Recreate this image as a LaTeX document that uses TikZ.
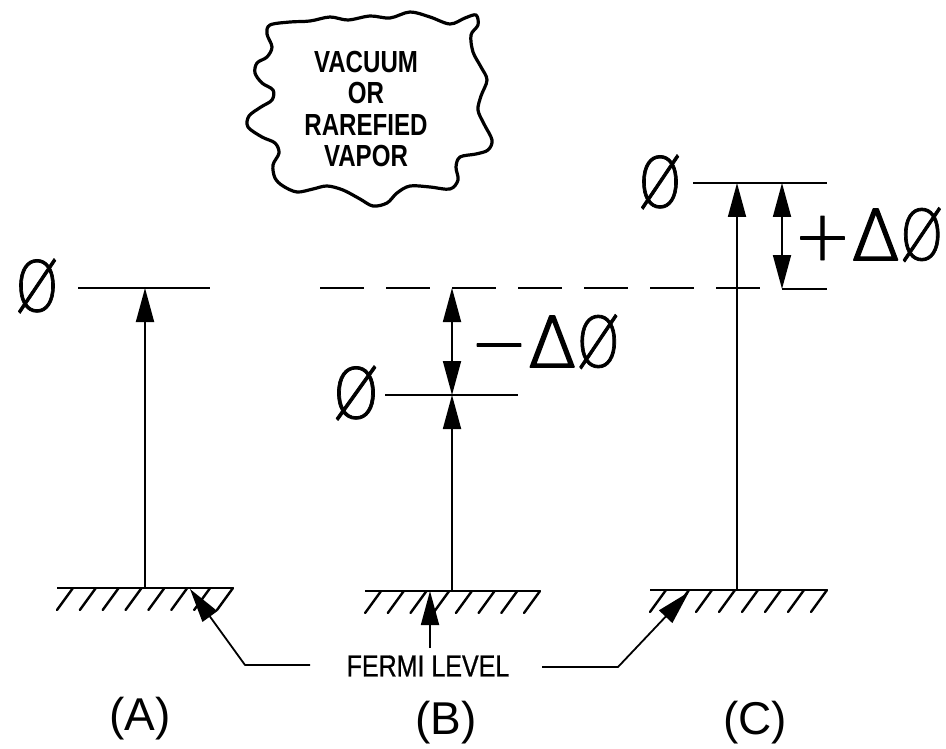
\documentclass[tikz,border=0pt]{standalone}
\usepackage{fontspec}
\setmainfont{Liberation Sans}
\newfontfamily\thinfont[FakeBold=1.2]{DejaVu Sans ExtraLight}
\newfontfamily\deltafont[FakeBold=2.6]{DejaVu Sans ExtraLight}
\newfontfamily\medfont[FakeBold=0.9]{Liberation Sans}
\usetikzlibrary{arrows.meta,calc}
\begin{document}
\begin{tikzpicture}[x=1pt,y=-1pt,line join=round,
  ln/.style={line width=1.8pt},
  baseln/.style={line width=2.8pt},
  hatchln/.style={line width=2.4pt,line cap=round},
  cloudln/.style={line width=3.2pt},
  tip/.style={-{Triangle[length=34pt,width=18pt]}},
  tips/.style={{Triangle[length=34pt,width=18pt]}-{Triangle[length=34pt,width=18pt]}},
  phi/.style={inner sep=0pt,font=\thinfont\fontsize{70}{70}\selectfont},
  delta/.style={inner sep=0pt,font=\thinfont\fontsize{70}{70}\selectfont},
  lab/.style={inner sep=0pt,font=\fontsize{46}{46}\selectfont},
  fermi/.style={inner sep=0pt,font=\medfont\fontsize{30.5}{30.5}\selectfont},
  cloudtxt/.style={inner sep=0pt,font=\bfseries\fontsize{30.5}{31.5}\selectfont}]
\useasboundingbox (0,0) rectangle (946,749);

% ---- cloud
\draw[cloudln] plot[smooth cycle,tension=0.55] coordinates {
 (270,25) (290,22) (310,21) (330,17) (348,20) (370,16) (390,18) (410,12)
 (430,17) (450,24) (465,18) (476,15) (478,25) (471,35) (473,52) (481,67)
 (487,80) (481,96) (478,110) (484,124) (492,140) (488,150) (476,154)
 (460,157) (456,167) (458,180) (450,189) (430,187) (410,186) (397,193)
 (387,203) (373,206) (360,199) (343,190) (327,186) (313,189) (297,192)
 (283,186) (275,178) (273,165) (279,153) (275,143) (262,137) (248,127)
 (249,116) (261,107) (272,100) (273,90) (262,83) (255,73) (257,63)
 (267,57) (272,47) (267,34)};
\node[cloudtxt] (cloud) at (366,113) {\scalebox{0.79}[1]{\begin{tabular}{@{}c@{}}VACUUM\\OR\\RAREFIED\\VAPOR\end{tabular}}};

% ---- base (Fermi) lines with hatching
\coordinate (gA1) at (57,588);  \coordinate (gA2) at (233,588);
\coordinate (gB1) at (365,591); \coordinate (gB2) at (540,591);
\coordinate (gC1) at (650,590); \coordinate (gC2) at (827,590);
\draw[baseln] (gA1) -- (gA2);
\draw[baseln] (gB1) -- (gB2);
\draw[baseln] (gC1) -- (gC2);
\foreach \k in {0,...,7}{
  \draw[hatchln] ($(gA2)+(-22.86*\k,0)$) -- ++(-16,22);
  \draw[hatchln] ($(gB2)+(-22.7*\k,0)$) -- ++(-16,22);
  \draw[hatchln] ($(gC2)+(-23*\k,0)$) -- ++(-16,22);
}

% ---- panel A
\coordinate (vA0) at (145,588);
\coordinate (vA1) at (145,288);
\coordinate (hA1) at (78,288); \coordinate (hA2) at (210,288);
\draw[ln] (hA1) -- (hA2);
\draw[ln,tip] (vA0) -- (vA1);
\node[phi] (phiA) at (37,286) {\scalebox{0.8}[1]{Ø}};

% ---- panel B
\coordinate (dB1) at (320,288); \coordinate (dB2) at (760,288);
\draw[ln,dash pattern=on 44pt off 22pt] (dB1) -- (dB2);
\coordinate (vB0) at (452,591);
\coordinate (vB1) at (452,395);
\coordinate (vB2) at (452,288);
\coordinate (hB1) at (385,395); \coordinate (hB2) at (518,395);
\draw[ln] (hB1) -- (hB2);
\draw[ln,tip] (vB0) -- (vB1);
\draw[ln,tips] (vB1) -- (vB2);
\node[phi] (phiB) at (356,393) {\scalebox{0.85}[1]{Ø}};
\node[delta,anchor=base] (dphiB) at (545,367) {−{\deltafont Δ}\scalebox{0.8}[1]{Ø}};

% ---- panel C
\coordinate (vC0) at (737,590);
\coordinate (vC1) at (737,183);
\coordinate (hC1) at (693,183); \coordinate (hC2) at (827,183);
\coordinate (eC1) at (782,289); \coordinate (eC2) at (827,289);
\coordinate (kC1) at (782,183);
\draw[ln] (hC1) -- (hC2);
\draw[ln] (eC1) -- (eC2);
\draw[ln,tip] (vC0) -- (vC1);
\draw[ln,tips] (kC1) -- (eC1);
\node[phi] (phiC) at (660,182) {\scalebox{0.8}[1]{Ø}};
\node[delta,anchor=base east] (dphiC) at (944,260) {+{\deltafont Δ}\scalebox{0.8}[1]{Ø}};

% ---- Fermi level label and leaders
\node[fermi] (fermi) at (428,666) {\scalebox{0.82}[1]{FERMI LEVEL}};
\coordinate (fa1) at (310,665); \coordinate (fa2) at (245,665); \coordinate (fa3) at (190,589);
\draw[ln,tip] (fa1) -- (fa2) -- (fa3);
\coordinate (fb1) at (430,648); \coordinate (fb2) at (430,591);
\draw[ln,tip] (fb1) -- (fb2);
\coordinate (fc1) at (542,667); \coordinate (fc2) at (618,667); \coordinate (fc3) at (689,592);
\draw[ln,tip] (fc1) -- (fc2) -- (fc3);

% ---- panel labels
\node[lab] (labA) at (140,719) {(A)};
\node[lab] (labB) at (446,723) {(B)};
\node[lab] (labC) at (755,723) {(C)};
\end{tikzpicture}
\end{document}
